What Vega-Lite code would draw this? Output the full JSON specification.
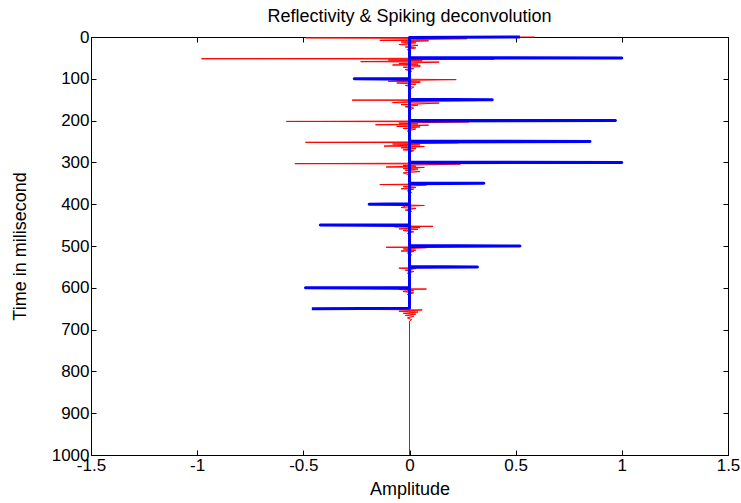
{
  "$schema": "https://vega.github.io/schema/vega-lite/v6.json",
  "width": 637,
  "height": 418,
  "autosize": "none",
  "padding": {"left": 91, "top": 37, "right": 13, "bottom": 48},
  "background": "white",
  "title": {"text": "Reflectivity & Spiking deconvolution", "fontSize": 18, "fontWeight": "normal", "font": "Liberation Sans", "color": "black", "offset": 2, "anchor": "middle"},
  "config": {
    "view": {"stroke": "black", "strokeWidth": 1},
    "axis": {"domainColor": "black", "tickColor": "black", "labelColor": "black", "titleColor": "black", "labelFont": "Liberation Sans", "titleFont": "Liberation Sans", "labelFontSize": 17, "titleFontSize": 18, "titleFontWeight": "normal", "grid": false, "tickSize": -5}
  },
  "datasets": {
    "deconv": [
      {"t": 0, "a": 0.59}, {"t": 2, "a": -0.49}, {"t": 4, "a": 0.27}, {"t": 6, "a": 0.05}, {"t": 8, "a": -0.14}, {"t": 9, "a": 0.09}, {"t": 12, "a": -0.04}, {"t": 14, "a": 0.03}, {"t": 18, "a": -0.05}, {"t": 20, "a": 0.04}, {"t": 24, "a": -0.02}, {"t": 26, "a": 0.03}, {"t": 30, "a": -0.01}, {"t": 36, "a": 0},
      {"t": 49, "a": 0}, {"t": 50, "a": 1.0}, {"t": 52, "a": -0.98}, {"t": 53, "a": 0.40}, {"t": 55, "a": -0.1}, {"t": 57, "a": 0.06}, {"t": 59, "a": -0.23}, {"t": 60, "a": 0.14}, {"t": 63, "a": -0.05}, {"t": 65, "a": 0.04}, {"t": 67, "a": -0.08}, {"t": 68, "a": 0.05}, {"t": 71, "a": 0.05}, {"t": 72, "a": -0.03}, {"t": 76, "a": 0.02}, {"t": 78, "a": -0.02}, {"t": 82, "a": 0.01}, {"t": 86, "a": 0},
      {"t": 99, "a": 0}, {"t": 100, "a": -0.26}, {"t": 102, "a": 0.22}, {"t": 104, "a": -0.04}, {"t": 106, "a": -0.10}, {"t": 107, "a": 0.05}, {"t": 109, "a": 0.05}, {"t": 110, "a": -0.06}, {"t": 113, "a": 0.03}, {"t": 116, "a": -0.02}, {"t": 120, "a": 0.02}, {"t": 125, "a": 0},
      {"t": 149, "a": 0}, {"t": 150, "a": 0.39}, {"t": 151, "a": -0.27}, {"t": 152, "a": 0.32}, {"t": 154, "a": 0.02}, {"t": 157, "a": -0.08}, {"t": 158, "a": 0.14}, {"t": 162, "a": -0.04}, {"t": 163, "a": 0.04}, {"t": 167, "a": -0.02}, {"t": 170, "a": 0.02}, {"t": 175, "a": 0},
      {"t": 199, "a": 0}, {"t": 200, "a": 0.73}, {"t": 202, "a": -0.58}, {"t": 203, "a": 0.28}, {"t": 206, "a": -0.05}, {"t": 208, "a": 0.04}, {"t": 210, "a": -0.16}, {"t": 211, "a": 0.09}, {"t": 214, "a": -0.06}, {"t": 215, "a": 0.05}, {"t": 219, "a": -0.03}, {"t": 220, "a": 0.03}, {"t": 225, "a": -0.01}, {"t": 230, "a": 0},
      {"t": 249, "a": 0}, {"t": 250, "a": 0.58}, {"t": 252, "a": -0.49}, {"t": 253, "a": 0.23}, {"t": 256, "a": -0.08}, {"t": 258, "a": 0.05}, {"t": 261, "a": -0.12}, {"t": 262, "a": 0.07}, {"t": 265, "a": -0.04}, {"t": 267, "a": 0.03}, {"t": 270, "a": -0.03}, {"t": 272, "a": 0.02}, {"t": 276, "a": 0},
      {"t": 299, "a": 0}, {"t": 300, "a": 0.95}, {"t": 303, "a": -0.54}, {"t": 304, "a": 0.24}, {"t": 307, "a": -0.03}, {"t": 309, "a": 0.03}, {"t": 311, "a": -0.11}, {"t": 312, "a": 0.07}, {"t": 315, "a": -0.03}, {"t": 316, "a": 0.04}, {"t": 319, "a": -0.02}, {"t": 322, "a": 0.05}, {"t": 325, "a": -0.03}, {"t": 330, "a": 0},
      {"t": 349, "a": 0}, {"t": 350, "a": 0.3}, {"t": 353, "a": -0.14}, {"t": 354, "a": 0.08}, {"t": 358, "a": -0.03}, {"t": 360, "a": 0.03}, {"t": 363, "a": -0.04}, {"t": 364, "a": 0.02}, {"t": 368, "a": -0.01}, {"t": 372, "a": 0.01}, {"t": 376, "a": 0},
      {"t": 399, "a": 0}, {"t": 400, "a": -0.17}, {"t": 403, "a": 0.07}, {"t": 405, "a": -0.02}, {"t": 408, "a": -0.04}, {"t": 410, "a": 0.03}, {"t": 414, "a": -0.02}, {"t": 417, "a": 0.01}, {"t": 422, "a": 0},
      {"t": 449, "a": 0}, {"t": 450, "a": -0.38}, {"t": 453, "a": 0.11}, {"t": 454, "a": -0.07}, {"t": 456, "a": 0.05}, {"t": 459, "a": -0.05}, {"t": 460, "a": 0.04}, {"t": 463, "a": -0.03}, {"t": 466, "a": 0.02}, {"t": 470, "a": -0.01}, {"t": 475, "a": 0},
      {"t": 499, "a": 0}, {"t": 500, "a": 0.45}, {"t": 503, "a": -0.11}, {"t": 504, "a": 0.08}, {"t": 507, "a": -0.03}, {"t": 510, "a": 0.03}, {"t": 512, "a": -0.04}, {"t": 513, "a": 0.02}, {"t": 517, "a": -0.01}, {"t": 521, "a": 0.01}, {"t": 526, "a": 0},
      {"t": 549, "a": 0}, {"t": 550, "a": 0.28}, {"t": 553, "a": -0.05}, {"t": 554, "a": 0.03}, {"t": 558, "a": -0.02}, {"t": 561, "a": 0.02}, {"t": 565, "a": -0.01}, {"t": 570, "a": 0},
      {"t": 599, "a": 0}, {"t": 600, "a": -0.45}, {"t": 602, "a": -0.15}, {"t": 603, "a": 0.08}, {"t": 604, "a": -0.05}, {"t": 607, "a": 0.02}, {"t": 609, "a": -0.03}, {"t": 612, "a": 0.02}, {"t": 616, "a": -0.01}, {"t": 620, "a": 0},
      {"t": 649, "a": 0}, {"t": 650, "a": -0.42}, {"t": 652, "a": -0.14}, {"t": 653, "a": 0.06}, {"t": 656, "a": -0.05}, {"t": 658, "a": 0.04}, {"t": 661, "a": -0.03}, {"t": 663, "a": 0.03}, {"t": 666, "a": -0.02}, {"t": 668, "a": 0.02}, {"t": 672, "a": -0.01}, {"t": 676, "a": 0.01}, {"t": 680, "a": 0}, {"t": 1000, "a": 0}
    ],
    "reflectivity": [
      {"t": 0, "r": 0.52}, {"t": 1, "r": 0}, {"t": 49, "r": 0}, {"t": 50, "r": 1.0}, {"t": 51, "r": 0},
      {"t": 99, "r": 0}, {"t": 100, "r": -0.26}, {"t": 101, "r": 0}, {"t": 149, "r": 0}, {"t": 150, "r": 0.39}, {"t": 151, "r": 0},
      {"t": 199, "r": 0}, {"t": 200, "r": 0.97}, {"t": 201, "r": 0}, {"t": 249, "r": 0}, {"t": 250, "r": 0.85}, {"t": 251, "r": 0},
      {"t": 299, "r": 0}, {"t": 300, "r": 1.0}, {"t": 301, "r": 0}, {"t": 349, "r": 0}, {"t": 350, "r": 0.35}, {"t": 351, "r": 0},
      {"t": 399, "r": 0}, {"t": 400, "r": -0.19}, {"t": 401, "r": 0}, {"t": 449, "r": 0}, {"t": 450, "r": -0.42}, {"t": 451, "r": 0},
      {"t": 499, "r": 0}, {"t": 500, "r": 0.52}, {"t": 501, "r": 0}, {"t": 549, "r": 0}, {"t": 550, "r": 0.32}, {"t": 551, "r": 0},
      {"t": 599, "r": 0}, {"t": 600, "r": -0.49}, {"t": 601, "r": 0}, {"t": 649, "r": 0}, {"t": 650, "r": -0.46}
    ]
  },
  "layer": [
    {
      "data": {"name": "deconv"},
      "mark": {"type": "line", "color": "#ff0000", "strokeWidth": 1, "strokeJoin": "round"},
      "encoding": {
        "x": {"field": "a", "type": "quantitative", "scale": {"domain": [-1.5, 1.5], "nice": false, "zero": false},
              "axis": {"orient": "bottom", "values": [-1.5, -1, -0.5, 0, 0.5, 1, 1.5], "labelExpr": "toString(datum.value)", "title": "Amplitude", "labelPadding": 7, "titlePadding": 7, "labelFlush": false}},
        "y": {"field": "t", "type": "quantitative", "scale": {"domain": [0, 1000], "nice": false, "reverse": true},
              "axis": {"orient": "left", "values": [0, 100, 200, 300, 400, 500, 600, 700, 800, 900, 1000], "title": "Time in milisecond", "format": "d", "labelPadding": 7, "titlePadding": 22, "labelFlush": false}},
        "order": {"field": "t", "type": "quantitative"}
      }
    },
    {
      "data": {"name": "reflectivity"},
      "mark": {"type": "line", "color": "#0000ff", "strokeWidth": 3, "strokeJoin": "round"},
      "encoding": {
        "x": {"field": "r", "type": "quantitative", "axis": {"orient": "top", "values": [-1.5, -1, -0.5, 0, 0.5, 1, 1.5], "labels": false, "title": null}},
        "y": {"field": "t", "type": "quantitative", "axis": {"orient": "right", "values": [0, 100, 200, 300, 400, 500, 600, 700, 800, 900, 1000], "labels": false, "title": null}},
        "order": {"field": "t", "type": "quantitative"}
      }
    }
  ],
  "resolve": {"axis": {"x": "independent", "y": "independent"}}
}
